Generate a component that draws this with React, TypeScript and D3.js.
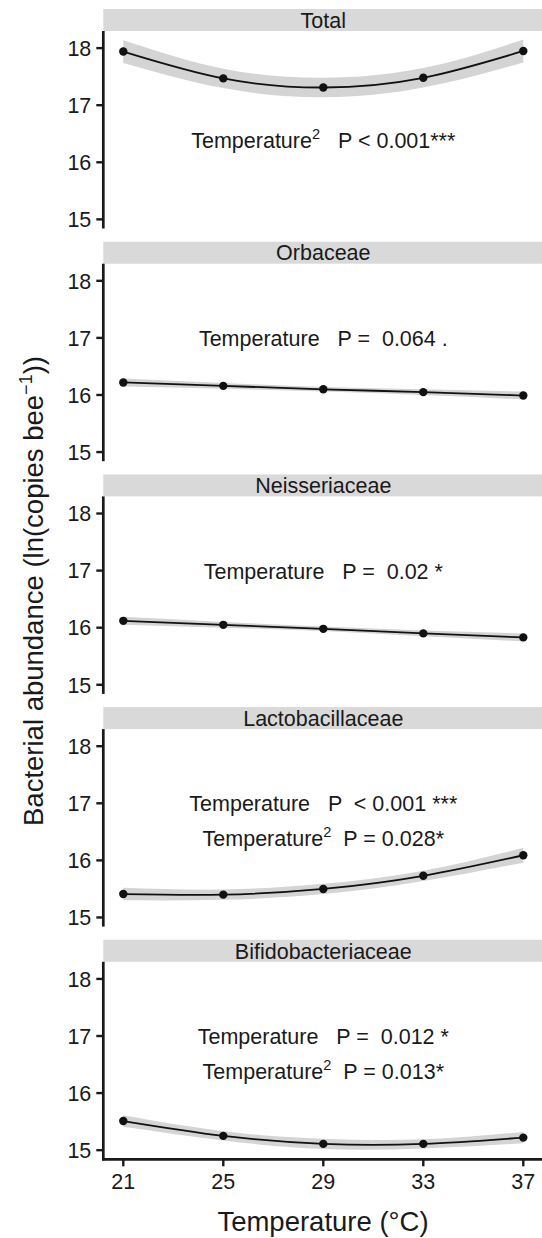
import React from 'react';
import * as d3 from 'd3';

// temperatures on the x axis
const TEMPS = [21, 25, 29, 33, 37];
const FAMILIES = ['Total', 'Orbaceae', 'Neisseriaceae', 'Lactobacillaceae', 'Bifidobacteriaceae'];

// fitted values (ln copies per bee) at each temperature
const TOTAL = [17.94, 17.47, 17.31, 17.48, 17.95];
const ORBACEAE = [16.22, 16.16, 16.1, 16.05, 15.99];
const NEISSERIACEAE = [16.12, 16.05, 15.98, 15.9, 15.83];
const LACTOBACILLACEAE = [15.41, 15.4, 15.5, 15.73, 16.09];
const BIFIDOBACTERIACEAE = [15.51, 15.25, 15.11, 15.11, 15.22];

// half width of the confidence band
const TOTAL_SE = [0.2, 0.17, 0.17, 0.17, 0.2];
const ORBACEAE_SE = [0.07, 0.05, 0.04, 0.05, 0.07];
const NEISSERIACEAE_SE = [0.07, 0.05, 0.04, 0.05, 0.07];
const LACTOBACILLACEAE_SE = [0.11, 0.09, 0.09, 0.09, 0.13];
const BIFIDOBACTERIACEAE_SE = [0.1, 0.08, 0.09, 0.08, 0.1];

const Y_TICKS = [15, 16, 17, 18];

// annotation lines: [text, 'sup'?]
const TOTAL_NOTES = [{ y: 16.25, parts: [['Temperature'], ['2', 'sup'], ['   P < 0.001***']] }];
const ORBACEAE_NOTES = [{ y: 16.86, parts: [['Temperature   P =  0.064 .']] }];
const NEISSERIACEAE_NOTES = [{ y: 16.86, parts: [['Temperature   P =  0.02 *']] }];
const LACTOBACILLACEAE_NOTES = [
  { y: 16.86, parts: [['Temperature   P  < 0.001 ***']] },
  { y: 16.25, parts: [['Temperature'], ['2', 'sup'], ['  P = 0.028*']] },
];
const BIFIDOBACTERIACEAE_NOTES = [
  { y: 16.86, parts: [['Temperature   P =  0.012 *']] },
  { y: 16.25, parts: [['Temperature'], ['2', 'sup'], ['  P = 0.013*']] },
];

const MEANS = [TOTAL, ORBACEAE, NEISSERIACEAE, LACTOBACILLACEAE, BIFIDOBACTERIACEAE];
const SES = [TOTAL_SE, ORBACEAE_SE, NEISSERIACEAE_SE, LACTOBACILLACEAE_SE, BIFIDOBACTERIACEAE_SE];
const NOTES = [TOTAL_NOTES, ORBACEAE_NOTES, NEISSERIACEAE_NOTES, LACTOBACILLACEAE_NOTES, BIFIDOBACTERIACEAE_NOTES];

const W = 542;
const H = 1238;
const LEFT = 103.3;
const TOP0 = 9;
const PERIOD = 232.7;
const STRIP_H = 22;
const PLOT_H = 197.5;
const FONT = '"Liberation Sans", Arial, Helvetica, sans-serif';
const INK = '#1a1a1a';
const TICK_FS = 21.5;
const NOTE_FS = 21.5;
const TITLE_FS = 27.5;

const x = d3.scaleLinear().domain([20.2, 37.8]).range([LEFT, LEFT + 440]);

function Note({ parts, cx, cy, fs }) {
  let shift = 0;
  return (
    <text x={cx} y={cy} dy="0.35em" textAnchor="middle" fontSize={fs} fill={INK} style={{ whiteSpace: 'pre' }}>
      {parts.map(([t, kind], i) => {
        let dy = 0;
        if (kind === 'sup') {
          dy = -fs * 0.42;
          shift = fs * 0.42;
          return <tspan key={i} dy={dy} fontSize={fs * 0.68}>{t}</tspan>;
        }
        dy = shift;
        shift = 0;
        return <tspan key={i} dy={dy}>{t}</tspan>;
      })}
    </text>
  );
}

function Panel({ i }) {
  const stripTop = TOP0 + PERIOD * i;
  const top = stripTop + STRIP_H;
  const bottom = top + PLOT_H;
  const y = d3.scaleLinear().domain([14.84, 18.3]).range([bottom, top]);
  const rows = TEMPS.map((t, k) => ({ t, m: MEANS[i][k], se: SES[i][k] }));
  const line = d3.line().x(d => x(d.t)).y(d => y(d.m)).curve(d3.curveNatural);
  const band = d3.area().x(d => x(d.t)).y0(d => y(d.m - d.se)).y1(d => y(d.m + d.se)).curve(d3.curveNatural);
  const last = i === FAMILIES.length - 1;
  return (
    <g>
      <rect x={LEFT} y={stripTop} width={W - LEFT} height={STRIP_H} fill="#d9d9d9" />
      <text x={(LEFT + LEFT + 440) / 2} y={stripTop + STRIP_H / 2} dy="0.36em" textAnchor="middle" fontSize={21.5} fill={INK}>
        {FAMILIES[i]}
      </text>
      <path d={band(rows)} fill="#d4d4d4" />
      <path d={line(rows)} fill="none" stroke="#111" strokeWidth={1.8} />
      {rows.map(d => (
        <circle key={d.t} cx={x(d.t)} cy={y(d.m)} r={4.2} fill="#111" />
      ))}
      {NOTES[i].map((n, k) => (
        <Note key={k} parts={n.parts} cx={x(29)} cy={y(n.y)} fs={NOTE_FS} />
      ))}
      <line x1={LEFT} x2={LEFT} y1={top} y2={bottom + (last ? 1.3 : 0)} stroke={INK} strokeWidth={2.7} />
      {Y_TICKS.map(v => (
        <g key={v}>
          <line x1={LEFT - 7} x2={LEFT} y1={y(v)} y2={y(v)} stroke={INK} strokeWidth={2.4} />
          <text x={LEFT - 12} y={y(v)} dy="0.36em" textAnchor="end" fontSize={TICK_FS} fill={INK}>{v}</text>
        </g>
      ))}
      {last && (
        <g>
          <line x1={LEFT - 1.3} x2={W} y1={bottom} y2={bottom} stroke={INK} strokeWidth={2.7} />
          {TEMPS.map(t => (
            <g key={t}>
              <line x1={x(t)} x2={x(t)} y1={bottom} y2={bottom + 7} stroke={INK} strokeWidth={2.4} />
              <text x={x(t)} y={bottom + 30} textAnchor="middle" fontSize={TICK_FS} fill={INK}>{t}</text>
            </g>
          ))}
        </g>
      )}
    </g>
  );
}

export default function App() {
  return (
    <svg width={W} height={H} fontFamily={FONT} style={{ position: 'absolute', left: 0, top: 0, background: '#fff' }}>
      <rect width={W} height={H} fill="#fff" />
      {FAMILIES.map((f, i) => (
        <Panel key={f} i={i} />
      ))}
      <text transform="translate(43,591) rotate(-90)" textAnchor="middle" fontSize={TITLE_FS} fill={INK}>
        Bacterial abundance (ln(copies bee
        <tspan dy={-11} fontSize={18}>−1</tspan>
        <tspan dy={11}>))</tspan>
      </text>
      <text x={323} y={1231} textAnchor="middle" fontSize={TITLE_FS} fill={INK}>
        Temperature (°C)
      </text>
    </svg>
  );
}
